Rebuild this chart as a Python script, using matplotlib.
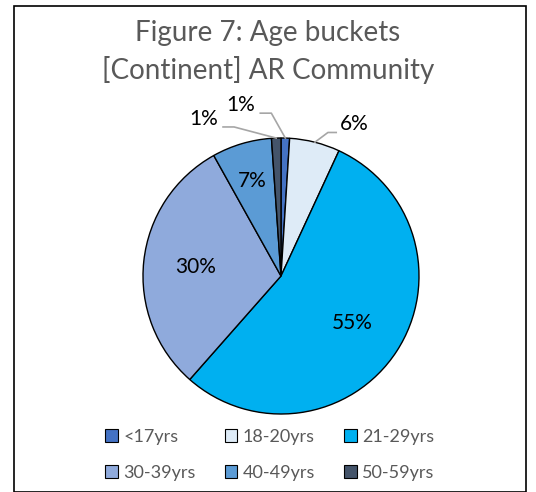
import numpy as np
import matplotlib
matplotlib.use("Agg")
import matplotlib.pyplot as plt
from matplotlib.patches import Rectangle, Patch

categories = ["<17yrs", "18-20yrs", "21-29yrs", "30-39yrs", "40-49yrs", "50-59yrs"]
shares = [1.0, 5.9, 54.6, 30.4, 7.0, 1.1]
colors = ["#4472C4", "#DEEBF7", "#00B0F0", "#8FAADC", "#5B9BD5", "#44546A"]
title = "Figure 7: Age buckets\n[Continent] AR Community"

plt.rcParams["font.family"] = ["Lato", "DejaVu Sans"]

W, H = 536, 492
fig = plt.figure(figsize=(W / 100, H / 100), dpi=100)

# outer chart border
fig.patches.append(Rectangle((14 / W, 0), 512 / W, 486 / H, transform=fig.transFigure,
                             fill=False, edgecolor="black", linewidth=1.2))

cx, cy, r = 281, 276, 138
ax = fig.add_axes([(cx - r) / W, (H - cy - r) / H, 2 * r / W, 2 * r / H])
wedges, _ = ax.pie(shares, colors=colors, startangle=90, counterclock=False, radius=1,
                   wedgeprops=dict(edgecolor="black", linewidth=1))
ax.set_xlim(-1, 1)
ax.set_ylim(-1, 1)
ax.axis("off")

# inside labels: radius factor; outside labels: text point
inside = {2: 0.62, 3: 0.62, 4: 0.72}
outside = {0: (-0.29, 1.24), 1: (0.53, 1.10), 5: (-0.56, 1.14)}
for i, w in enumerate(wedges):
    mid = np.deg2rad((w.theta1 + w.theta2) / 2)
    txt = f"{round(shares[i])}%"
    if i in inside:
        f = inside[i]
        ax.text(f * np.cos(mid), f * np.sin(mid), txt, ha="center", va="center",
                fontsize=15, color="black")
    else:
        tx, ty = outside[i]
        ax.text(tx, ty, txt, ha="center", va="center", fontsize=15, color="black")
        ex, ey = np.cos(mid), np.sin(mid)
        if tx > 0:
            xs = [ex, tx - 0.19, tx - 0.13]
        else:
            xs = [ex, tx + 0.22, tx + 0.14]
        ax.plot(xs, [ey, ty - 0.06, ty - 0.06], color="#A6A6A6", linewidth=1.2,
                clip_on=False)

fig.text(0.5, 1 - 52 / H, title, ha="center", va="center", fontsize=20,
         color="#595959", linespacing=1.45)

# legend filled row by row
order = [0, 3, 1, 4, 2, 5]
handles = [Patch(facecolor=colors[i], edgecolor="black", linewidth=0.8) for i in order]
labels = [categories[i] for i in order]
fig.legend(handles, labels, ncol=3, loc="center", bbox_to_anchor=(270 / W, 1 - 455 / H),
           frameon=False, fontsize=13, labelcolor="#595959", handlelength=0.7,
           handleheight=0.7, handletextpad=0.3, columnspacing=1.6, labelspacing=1.1)

fig.savefig("out.png", dpi=100)
